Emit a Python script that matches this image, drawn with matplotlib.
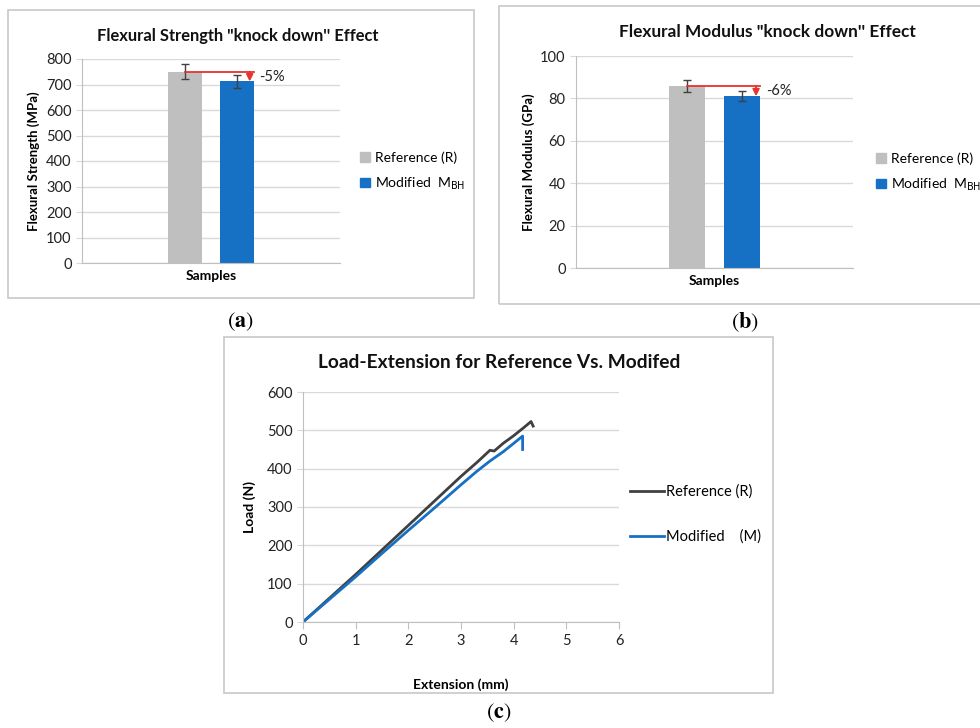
import matplotlib
matplotlib.use("Agg")
import matplotlib.pyplot as plt
from matplotlib.patches import Patch, Rectangle

plt.rcParams['font.family'] = ['Lato', 'DejaVu Sans']
plt.rcParams['mathtext.fontset'] = 'custom'
plt.rcParams['mathtext.rm'] = 'DejaVu Sans'

W, H = 980, 728

# flexural tests (mean, std)
samples = ["Reference (R)", "Modified  M$_{\\mathrm{BH}}$"]
strength_mean = [750, 712]
strength_err = [30, 26]
modulus_mean = [86, 81]
modulus_err = [2.8, 2.4]

# load-extension curves
ref_ext = [0, 0.5, 1.0, 1.5, 2.0, 2.5, 3.0, 3.3, 3.55, 3.63, 3.8, 4.0, 4.2, 4.33, 4.37]
ref_load = [0, 62, 124, 188, 252, 316, 380, 416, 448, 446, 466, 486, 508, 523, 511]
mod_ext = [0, 0.5, 1.0, 1.5, 2.0, 2.5, 3.0, 3.3, 3.55, 3.8, 4.0, 4.17, 4.17]
mod_load = [0, 59, 118, 179, 239, 298, 358, 393, 420, 444, 466, 485, 450]

GREY = '#bfbfbf'
BLUE = '#1670c4'
GRID = '#d9d9d9'


def px_rect(x0, y0, x1, y1):
    return [x0 / W, 1 - y1 / H, (x1 - x0) / W, (y1 - y0) / H]


def frame(x0, y0, x1, y1):
    fig.patches.append(Rectangle((x0 / W, 1 - y1 / H), (x1 - x0) / W, (y1 - y0) / H,
                                 transform=fig.transFigure, fill=False,
                                 edgecolor='#c8c8c8', lw=1.2))


def chart_title(text, x, y, size):
    # chart titles sit centred on the chart frame, not on the plot area
    fig.text(x / W, 1 - y / H, text, fontsize=size, weight='bold',
             ha='center', va='center', color='#111111')


def style_axes(ax):
    ax.grid(axis='y', color=GRID, lw=1)
    ax.set_axisbelow(True)
    for s in ['top', 'right']:
        ax.spines[s].set_visible(False)
    for s in ['left', 'bottom']:
        ax.spines[s].set_color(GREY)
    ax.tick_params(axis='y', direction='out', length=4, color=GRID,
                   labelsize=10.5, labelcolor='#222222')


def bar_panel(ax, means, errs, ymax, ystep, ylabel, leg_xy):
    style_axes(ax)
    pos = [-0.2, 0.2]
    ax.bar(pos, means, width=0.26, color=[GREY, BLUE], zorder=2)
    ax.errorbar(pos, means, yerr=errs, fmt='none', ecolor='#404040',
                elinewidth=1, capsize=3, capthick=1, zorder=3)
    ax.set_xlim(-1, 1)
    ax.set_ylim(0, ymax)
    ax.set_yticks(range(0, ymax + 1, ystep))
    ax.set_xticks([0])
    ax.set_xticklabels(['Samples'], fontsize=10, weight='bold')
    ax.tick_params(axis='x', length=0, pad=5)
    ax.set_ylabel(ylabel, fontsize=9.5, weight='bold', labelpad=4)

    # knock-down marker: level of reference carried over to the modified bar
    x_end = 0.33
    ax.plot([pos[0], x_end], [means[0], means[0]], color='#e8322c', lw=1.3, zorder=4)
    ax.annotate('', xy=(x_end - 0.03, means[1]), xytext=(x_end - 0.03, means[0]),
                arrowprops=dict(arrowstyle='-|>', color='#e8322c', lw=1.3,
                                mutation_scale=10, shrinkA=0, shrinkB=0), zorder=5)
    drop = round((means[1] - means[0]) / means[0] * 100)
    ax.text(x_end + 0.04, (means[0] + means[1]) / 2, f'{drop}%', fontsize=10.5,
            va='center', ha='left', color='#222222')

    handles = [Patch(color=GREY), Patch(color=BLUE)]
    ax.legend(handles, samples, loc='center left', bbox_to_anchor=leg_xy,
              bbox_transform=fig.transFigure, frameon=False, fontsize=10,
              handlelength=0.7, handleheight=0.7, handletextpad=0.35,
              labelspacing=0.85, borderpad=0, borderaxespad=0)


fig = plt.figure(figsize=(W / 100, H / 100), dpi=100)

frame(8, 10, 474, 298)
frame(499, 6, 990, 304)
frame(224, 337, 773, 693)

ax1 = fig.add_axes(px_rect(82, 59, 340, 263))
bar_panel(ax1, strength_mean, strength_err, 800, 100, 'Flexural Strength (MPa)',
          (360 / W, 1 - 171.5 / H))
chart_title('Flexural Strength "knock down\'\' Effect', 238, 36, 11.9)

ax2 = fig.add_axes(px_rect(576, 56, 853, 268))
bar_panel(ax2, modulus_mean, modulus_err, 100, 20, 'Flexural Modulus (GPa)',
          (876 / W, 1 - 172.5 / H))
chart_title('Flexural Modulus "knock down\'\' Effect', 767, 32, 12.4)

ax3 = fig.add_axes(px_rect(303, 392, 619, 622))
style_axes(ax3)
ax3.plot(ref_ext, ref_load, color='#404040', lw=2, label='Reference (R)')
ax3.plot(mod_ext, mod_load, color=BLUE, lw=2, label='Modified    (M)')
ax3.set_xlim(0, 6)
ax3.set_ylim(0, 600)
ax3.set_yticks(range(0, 601, 100))
ax3.set_xticks(range(0, 7))
ax3.tick_params(axis='x', direction='out', length=5, color=GREY,
                labelsize=10.5, labelcolor='#222222')
ax3.set_xlabel('Extension (mm)', fontsize=10, weight='bold', labelpad=22)
ax3.set_ylabel('Load (N)', fontsize=10, weight='bold', labelpad=8)
chart_title('Load-Extension for Reference Vs. Modifed', 499, 363, 13.8)
ax3.legend(loc='center left', bbox_to_anchor=(630 / W, 1 - 514.5 / H),
           bbox_transform=fig.transFigure, frameon=False, fontsize=10.5,
           handlelength=2.3, handletextpad=0.2, labelspacing=2.1,
           borderpad=0, borderaxespad=0)

for lab, x, y in [('a', 240, 322), ('b', 745, 322), ('c', 499, 713)]:
    fig.text(x / W, 1 - y / H, '($\\mathbf{%s}$)' % lab, family='STIXGeneral',
             math_fontfamily='stix', fontsize=16, ha='center', va='center')

fig.savefig('out.png', dpi=100)
